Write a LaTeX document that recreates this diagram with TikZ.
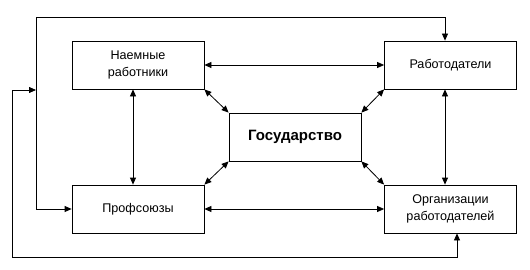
\documentclass[tikz,border=0pt]{standalone}
\usepackage{fontspec}
\setmainfont{Liberation Sans}
\usetikzlibrary{arrows.meta}
\begin{document}
\begin{tikzpicture}[x=1pt,y=-1pt,
  box/.style={draw,line width=0.8pt,minimum width=132pt,minimum height=48pt,align=center,font=\fontsize{12.6}{17.5}\selectfont,inner sep=0pt},
  gbox/.style={draw,line width=0.8pt,minimum width=132pt,minimum height=48pt,align=center,font=\fontsize{15}{18}\selectfont\bfseries,inner sep=0pt},
  conn/.style={line width=0.8pt,-{Triangle[length=7pt,width=6pt]}},
  bconn/.style={line width=0.8pt,{Triangle[length=7pt,width=6pt]}-{Triangle[length=7pt,width=6pt]}}]
\useasboundingbox (0,0) rectangle (530,270);
\node[box] (nr) at (138,65) {Наемные\\работники};
\node[box] (rd) at (450.5,65) {Работодатели};
\node[gbox] (gos) at (295,137) {Государство};
\node[box] (pf) at (138,209) {Профсоюзы};
\node[box] (or) at (450.5,209) {Организации\\работодателей};
% horizontals
\draw[bconn] (nr.east) -- (rd.west);
\draw[bconn] (pf.east) -- (or.west);
% verticals
\draw[bconn] (nr.south -| 133,0) -- (pf.north -| 133,0);
\draw[bconn] (rd.south -| 445,0) -- (or.north -| 445,0);
% diagonals
\draw[bconn] (nr.south east) -- (gos.north west);
\draw[bconn] (rd.south west) -- (gos.north east);
\draw[bconn] (pf.north east) -- (gos.south west);
\draw[bconn] (or.north west) -- (gos.south east);
% outer loops
\coordinate (a1) at (36,209);
\coordinate (a2) at (36,17);
\coordinate (a3) at (445,17);
\draw[bconn] (pf.west) -- (a1) -- (a2) -- (a3) -- (rd.north -| a3);
\coordinate (b1) at (12,90);
\coordinate (b2) at (12,257);
\coordinate (b3) at (457,257);
\coordinate (b0) at (36,90);
\draw[bconn] (b0) -- (b1) -- (b2) -- (b3) -- (or.south -| b3);
\end{tikzpicture}
\end{document}
